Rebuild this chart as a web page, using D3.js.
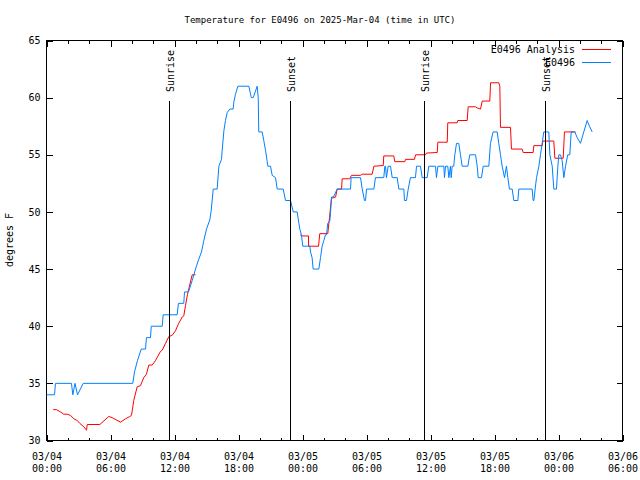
<!DOCTYPE html>
<html><head><meta charset="utf-8">
<script src="https://cdn.jsdelivr.net/npm/d3@7"></script>
<style>
body{margin:0;background:#fff}
text{font-family:"DejaVu Sans Mono",monospace;fill:#000}
</style>
</head><body>
<svg id="c" width="640" height="480"></svg>
<script>
// ---------- data ----------
const startTime = Date.UTC(2025, 2, 4, 0, 0);   // 03/04 00:00 UTC
const xMajorHours = [0, 6, 12, 18, 24, 30, 36, 42, 48, 54];
const xMinorHours = d3.range(0, 55, 2);
const yTicks = [30, 35, 40, 45, 50, 55, 60, 65];

const obsHours = [0,0.75,0.84,2.34,2.47,2.67,2.91,3.44,8.09,8.25,8.53,8.88,9.28,9.37,9.75,9.82,10.85,10.94,12.25,12.37,12.87,12.94,13.31,13.66,13.97,14.25,14.53,14.75,15.0,15.31,15.44,15.63,16.0,16.16,16.41,16.47,16.63,16.78,16.94,17.19,17.5,17.56,17.72,17.94,18.97,19.13,19.2,19.38,19.75,19.85,19.9,20.22,20.37,20.53,20.69,20.75,21.0,21.16,21.47,21.63,22.19,22.41,22.88,23.13,23.5,23.66,23.75,23.9,24.03,24.69,24.75,24.9,25.0,25.53,25.69,25.84,26.0,26.16,26.25,26.37,26.56,26.63,26.72,26.9,27.25,28.5,28.56,29.44,29.6,29.81,29.91,30.0,30.69,30.84,31.62,31.72,31.78,31.87,32.03,32.25,32.41,32.88,33.03,33.12,33.5,33.56,33.75,33.91,34.12,34.59,34.69,35.06,35.22,35.69,35.84,36.47,36.56,36.69,37.25,37.31,37.41,37.62,37.72,37.87,37.94,38.03,38.18,38.28,38.44,38.65,38.81,38.97,39.5,39.68,40.22,40.38,40.47,40.78,40.94,41.47,41.62,41.87,42.25,42.4,42.56,42.72,42.94,43.12,43.25,43.4,43.66,43.81,44.19,44.28,45.53,45.62,45.69,45.81,45.94,46.16,46.31,46.47,46.62,47.09,47.19,47.41,47.56,47.81,47.94,48.03,48.19,48.34,48.5,48.66,48.87,49.06,49.19,49.53,49.75,50.06,50.37,50.69,50.9,51.16];
const obsTemps = [34,34,35,35,34,35,34,35,35,36,37,38,38,39,39,40,40,41,41,42,42,43,43,44,45,45.8,46.5,47.5,48.5,49.3,50.1,52,52,54,54.6,55.4,57.1,58,58.7,59,59,59.6,60.3,61,61,60.3,60,60,61,60,57,57,56.25,55.4,54.4,54,54,53.2,53,52,52,51,51,50,50,49,48.5,48,47,47,46.5,46,45,45,46,47,47.5,48,48,49,49.2,50,51.3,51.3,52,52,53,53,52,51,51,52,52,53,53,54,54,53,54,54,53,53,52,52,52,51,51,52,53,53,54,54,53,53,54,54,53,54,54,53,54,54,53,54,53,54,54,55,56,56,55,54,54,55,55,54,53,53,54,54,56,57,57,56,55,54,53,54,53,52,52,51,51,52,52,51,51,52,53,54,55,56,57,57,55,54,52,52,54,55,55,54.5,53,54,55,55,57,57,56.5,56,57,58,57.5,57];

const anaHours = [0.63,0.94,1.31,1.62,1.94,2.25,2.56,2.88,3.12,3.5,3.75,3.82,5.0,5.84,6.16,6.94,7.41,7.81,7.97,8.18,8.5,8.81,9.12,9.37,9.59,9.91,10.22,10.69,10.85,11.16,11.47,11.78,12.09,12.37,12.72,12.87,13.03,13.22,13.4,13.66,13.97,
  18.0,
  23.78,23.94,24.56,24.57,25.5,25.62,26.37,26.53,26.72,27.1,27.25,27.66,27.72,28.43,28.59,29.44,29.6,30.53,30.69,31.57,31.62,32.56,32.65,33.59,33.66,34.5,34.6,35.53,35.62,36.63,36.69,37.57,37.62,38.5,38.56,39.44,39.53,40.22,40.38,40.69,40.85,41.56,41.63,42.41,42.5,42.56,43.5,43.59,44.59,44.69,45.62,45.69,46.47,46.53,47.56,47.66,48.44,48.56,49.59];
const anaTemps = [32.7,32.7,32.5,32.3,32.3,32.2,31.9,31.75,31.5,31.2,30.9,31.4,31.4,32.1,32.0,31.6,31.9,32.1,32.2,33.5,34.7,34.8,35.5,35.8,36.6,36.6,37,37.8,37.9,38.5,39.1,39.2,39.6,40.2,40.8,40.9,41.8,42.8,43.5,44.5,44.5,
  null,
  48,47.9,47.9,47,47,48.1,48.1,49.5,51.2,51.3,52,52,52.9,52.9,53.2,53.2,53.3,53.3,54.0,54.06,54.9,54.9,54.4,54.4,54.6,54.6,55.0,55.0,55.15,55.2,56.1,56.1,57.8,57.8,58.0,58.0,59.2,59.2,59.1,59.0,59.7,59.7,61.3,61.3,61.0,57.4,57.4,55.5,55.5,55.2,55.2,55.8,55.8,56.2,56.2,54.7,54.7,57,57];

const sunLabels = ["Sunrise", "Sunset", "Sunrise", "Sunset"];
const sunHours = [11.56, 22.84, 35.47, 46.81];

const seriesNames = ["E0496 Analysis", "E0496"];
const seriesColors = ["#ff0000", "#0080ff"];
const titleText = "Temperature for E0496 on 2025-Mar-04 (time in UTC)";
const yLabel = "degrees F";

// ---------- chart ----------
const W = 640, H = 480;
const M = {left: 46, right: 18, top: 40, bottom: 40};
const toDate = h => new Date(startTime + h * 3600e3);

const x = d3.scaleUtc().domain([toDate(0), toDate(54)]).range([M.left, W - M.right]);
const y = d3.scaleLinear().domain([30, 65]).range([H - M.bottom, M.top]);

const svg = d3.select("#c");
const g = svg.append("g").attr("transform", "translate(0.5,0.5)");

// title
svg.append("text").attr("x", 320).attr("y", 23).attr("text-anchor", "middle")
  .style("font-size", "9px").text(titleText);

// y label
svg.append("text").attr("transform", "translate(13,240) rotate(-90)")
  .attr("text-anchor", "middle").style("font-size", "10px").text(yLabel);

const crisp = sel => sel.attr("shape-rendering", "crispEdges");

// axes
const fmtD = d3.utcFormat("%m/%d"), fmtT = d3.utcFormat("%H:%M");
const bottom = g.append("g").attr("transform", `translate(0,${H - M.bottom})`)
  .call(d3.axisBottom(x).tickValues(xMajorHours.map(toDate)).tickSizeInner(-6).tickSizeOuter(0).tickFormat(""));
bottom.selectAll(".tick").append("text")
  .style("font-size", "10px").attr("text-anchor", "middle").attr("fill", "#000")
  .each(function(d) {
    const t = d3.select(this);
    t.append("tspan").attr("x", 0).attr("y", 19).text(fmtD(d));
    t.append("tspan").attr("x", 0).attr("y", 31).text(fmtT(d));
  });
g.append("g").attr("transform", `translate(0,${H - M.bottom})`)
  .call(d3.axisBottom(x).tickValues(xMinorHours.map(toDate)).tickSizeInner(-3).tickSizeOuter(0).tickFormat(""));
g.append("g").attr("transform", `translate(0,${M.top})`)
  .call(d3.axisTop(x).tickValues(xMajorHours.map(toDate)).tickSizeInner(-6).tickSizeOuter(0).tickFormat(""));
g.append("g").attr("transform", `translate(0,${M.top})`)
  .call(d3.axisTop(x).tickValues(xMinorHours.map(toDate)).tickSizeInner(-3).tickSizeOuter(0).tickFormat(""));
const left = g.append("g").attr("transform", `translate(${M.left},0)`)
  .call(d3.axisLeft(y).tickValues(yTicks).tickSizeInner(-6).tickSizeOuter(0).tickPadding(6));
left.selectAll("text").style("font-size", "10px").style("font-family", "DejaVu Sans Mono");
g.append("g").attr("transform", `translate(${W - M.right},0)`)
  .call(d3.axisRight(y).tickValues(yTicks).tickSizeInner(-6).tickSizeOuter(0).tickFormat(""));
g.selectAll(".domain").remove();
g.selectAll(".tick line").attr("stroke", "#000").call(crisp);

// frame
g.append("rect").attr("x", M.left).attr("y", M.top)
  .attr("width", W - M.left - M.right).attr("height", H - M.top - M.bottom)
  .attr("fill", "none").attr("stroke", "#000").call(crisp);

// series
const line = d3.line().defined(d => d.t != null).x(d => x(toDate(d.h))).y(d => y(d.t));
const anaData = anaHours.map((h, i) => ({h, t: anaTemps[i]}));
const obsData = obsHours.map((h, i) => ({h, t: obsTemps[i]}));
g.append("path").datum(anaData).attr("d", line).attr("fill", "none")
  .attr("stroke", seriesColors[0]).attr("stroke-width", 1);
g.append("path").datum(obsData).attr("d", line).attr("fill", "none")
  .attr("stroke", seriesColors[1]).attr("stroke-width", 1);

// sunrise / sunset
const yTopLine = y.range()[0] - 0.85 * (y.range()[0] - y.range()[1]);
const yLab = y.range()[0] - 0.87 * (y.range()[0] - y.range()[1]);
sunHours.forEach((h, i) => {
  const xx = Math.round(x(toDate(h)));
  g.append("line").attr("x1", xx).attr("x2", xx).attr("y1", y.range()[0]).attr("y2", yTopLine)
    .attr("stroke", "#000").call(crisp);
  svg.append("text").attr("transform", `translate(${xx + 5},${yLab}) rotate(-90)`)
    .attr("text-anchor", "start").style("font-size", "10px").text(sunLabels[i]);
});

// legend
seriesNames.forEach((n, i) => {
  const yy = 49 + i * 13;
  svg.append("text").attr("x", 575).attr("y", yy + 4).attr("text-anchor", "end")
    .style("font-size", "10px").text(n);
  g.append("line").attr("x1", 581).attr("x2", 610).attr("y1", yy).attr("y2", yy)
    .attr("stroke", seriesColors[i]).call(crisp);
});
</script>
</body></html>
